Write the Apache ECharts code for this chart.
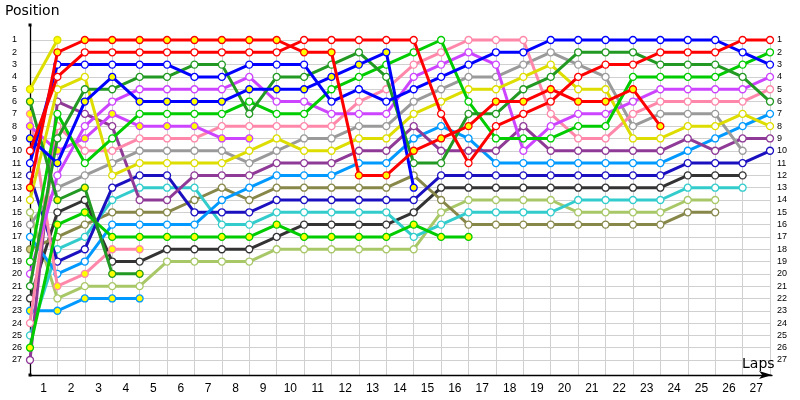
<!DOCTYPE html>
<html><head><meta charset="utf-8">
<script src="https://cdn.jsdelivr.net/npm/echarts@6/dist/echarts.min.js"></script>
<style>html,body{margin:0;padding:0;background:#fff}#c{width:800px;height:400px}</style>
</head><body><div id="c"></div>
<script>
// Lap tick labels (x) — positions are 1..27 on y
const lapLabels = ['1','2','3','4','5','6','7','8','9','10','11','12','13','14','15','16','17','18','19','20','21','22','23','24','25','26','27'];

// Position of each driver at the end of each lap (index 0 = grid)
const redA    = [13,2,1,1,1,1,1,1,1,1,2,2,12,12,10,9,8,6,6,5,6,6,5,8];
const redB    = [10,4,2,2,2,2,2,2,2,2,1,1,1,1,1,7,11,8,7,6,4,3,3,2,2,2,1,1];
const blueA   = [9,11,6,4,6,6,6,6,5,5,5,4,3,2,13];
const blueB   = [11,3,3,3,3,3,4,4,3,3,3,6,5,6,5,4,3,2,2,1,1,1,1,1,1,1,2,3];
const dgreenA = [6,14,13,20,20];
const dgreenB = [21,9,5,5,4,4,3,3,7,4,4,3,2,4,11,11,7,7,5,4,2,2,2,3,3,3,4,6];
const greenA  = [26,16,15,17,17,17,17,17,17,16,17,17,17,17,16,17,17];
const greenB  = [19,7,11,9,7,7,7,7,6,7,7,5,4,3,2,1,6,9,9,9,8,8,4,4,4,4,3,2];
const violetA = [8,10,9,7,8,8,8,9,9];
const violetB = [20,12,8,6,5,5,5,5,4,6,6,7,7,7,4,3,2,3,10,8,7,7,6,5,5,5,5,4];
const pinkA   = [7,21,20,18,18];
const pinkB   = [24,8,10,10,9,9,9,8,8,8,8,8,6,5,3,2,1,1,1,7,9,9,7,6,6,6,6,5];
const grey    = [16,13,12,11,10,10,10,10,11,10,9,9,8,8,6,5,4,4,3,2,3,4,8,7,7,7,10];
const yellowA = [5,1];
const yellowB = [14,5,4,12,11,11,11,11,10,9,10,10,9,9,7,6,5,5,4,3,5,5,9,9,8,8,7,8];
const purple  = [27,6,7,8,14,14,12,12,12,11,11,11,10,10,8,10,10,10,8,10,10,10,10,10,9,10,9,9];
const lblueA  = [23,23,22,22,22];
const lblueB  = [17,20,19,16,16,16,16,14,13,12,12,12,11,11,9,8,9,11,11,11,11,11,11,11,10,9,8,7];
const navy    = [12,19,18,13,12,12,15,15,15,14,14,14,14,14,14,12,12,12,12,12,12,12,12,12,11,11,11,10];
const cyan    = [25,18,17,14,13,13,13,16,16,15,15,15,15,15,17,16,15,15,15,15,14,14,14,14,13,13,13];
const olive   = [18,17,16,15,15,15,14,13,14,13,13,13,13,13,12,14,16,16,16,16,16,16,16,16,15,15];
const dgrey   = [22,15,14,19,19,18,18,18,18,17,16,16,16,16,15,13,13,13,13,13,13,13,13,13,12,12,12];
const lgreen  = [15,22,21,21,21,19,19,19,19,18,18,18,18,18,18,15,14,14,14,14,15,15,15,15,14,14];

const Y = '#ffff00', W = '#ffffff';
const drivers = [
  {data: lgreen,  color:'#a8c868', fill:W},
  {data: dgrey,   color:'#333333', fill:W},
  {data: olive,   color:'#87874a', fill:W, firstFill:'#d2cc78'},
  {data: cyan,    color:'#33cccc', fill:W},
  {data: navy,    color:'#1a10c0', fill:W},
  {data: lblueA,  color:'#0099ff', fill:Y},
  {data: lblueB,  color:'#0099ff', fill:W},
  {data: purple,  color:'#8e3a96', fill:W},
  {data: grey,    color:'#9a9a9a', fill:W},
  {data: pinkA,   color:'#ff88aa', fill:Y},
  {data: pinkB,   color:'#ff88aa', fill:W},
  {data: violetA, color:'#cc44ff', fill:Y},
  {data: violetB, color:'#cc44ff', fill:W},
  {data: yellowB, color:'#dddd00', fill:W},
  {data: greenA,  color:'#00cc00', fill:Y},
  {data: greenB,  color:'#00cc00', fill:W},
  {data: dgreenA, color:'#229922', fill:Y},
  {data: dgreenB, color:'#229922', fill:W},
  {data: blueA,   color:'#0000ff', fill:Y},
  {data: blueB,   color:'#0000ff', fill:W},
  {data: redB,    color:'#ff0000', fill:W},
  {data: redA,    color:'#ff0000', fill:Y},
  {data: yellowA, color:'#dddd00', fill:Y}
];

const font = 'DejaVu Sans';
const gridColor = '#d0d0d0';
const chart = echarts.init(document.getElementById('c'), null, {renderer:'canvas'});
const noAxisParts = {axisLine:{show:false,onZero:false}, axisTick:{show:false}, axisLabel:{show:false}, splitLine:{show:false}};

chart.setOption({
  animation:false,
  backgroundColor:'#ffffff',
  title:[
    {text:'Position', left:5, top:4, padding:0, textStyle:{fontFamily:font, fontSize:14, fontWeight:'normal', color:'#000'}},
    {text:'Laps', left:742, top:357, padding:0, textStyle:{fontFamily:font, fontSize:14, fontWeight:'normal', color:'#000'}}
  ],
  grid:[
    {left:30, right:30, top:40, height:320, outerBoundsMode:'none', containLabel:false},
    {left:30, right:30, top:40, bottom:25, outerBoundsMode:'none', containLabel:false},
    {left:30, right:28, top:25, bottom:25, outerBoundsMode:'none', containLabel:false}
  ],
  xAxis:[
    {gridIndex:0, type:'value', min:0, max:27, show:false},
    Object.assign({}, noAxisParts, {gridIndex:1, type:'value', min:0, max:27, interval:1,
      splitLine:{show:true, lineStyle:{color:gridColor, width:1}}}),
    {gridIndex:1, type:'category', data:lapLabels, boundaryGap:true, position:'bottom',
      axisLine:{show:false,onZero:false}, axisTick:{show:false}, splitLine:{show:false},
      axisLabel:{show:true, interval:0, margin:8, color:'#000', fontFamily:'Liberation Sans', fontSize:12}},
    Object.assign({}, noAxisParts, {gridIndex:2, type:'value', min:0, max:1,
      axisLine:{show:true, onZero:false, lineStyle:{color:'#000', width:1.3}, symbol:['none','arrow'], symbolSize:[6,13]}})
  ],
  yAxis:[
    {gridIndex:0, type:'value', inverse:true, min:1, max:27, interval:1, position:'left',
      axisLine:{show:false,onZero:false}, axisTick:{show:false},
      axisLabel:{show:true, align:'left', margin:18, color:'#000', fontFamily:'Liberation Sans', fontSize:9},
      splitLine:{show:true, lineStyle:{color:gridColor, width:1}}},
    {gridIndex:0, type:'value', inverse:true, min:1, max:27, interval:1, position:'right',
      axisLine:{show:false,onZero:false}, axisTick:{show:false},
      axisLabel:{show:true, align:'left', margin:7, color:'#000', fontFamily:'Liberation Sans', fontSize:9},
      splitLine:{show:false}},
    Object.assign({}, noAxisParts, {gridIndex:1, type:'value', min:0, max:1}),
    Object.assign({}, noAxisParts, {gridIndex:2, type:'value', min:0, max:1,
      axisLine:{show:true, onZero:false, lineStyle:{color:'#000', width:1.3}, symbol:['rect','rect'], symbolSize:[3,3]}})
  ],
  series: drivers.map((d, k) => ({
    type:'line', xAxisIndex:0, yAxisIndex:0, z:2 + k/100,
    data: d.data.map((p, i) => (i === 0 && d.firstFill)
        ? {value:[i, p], itemStyle:{color:d.firstFill}}
        : [i, p]),
    symbol:'circle', symbolSize:7, showSymbol:true, showAllSymbol:true,
    lineStyle:{color:d.color, width:3},
    itemStyle:{color:d.fill, borderColor:d.color, borderWidth:1.3},
    emphasis:{disabled:true}, silent:true, clip:false
  }))
});
</script>
</body></html>
